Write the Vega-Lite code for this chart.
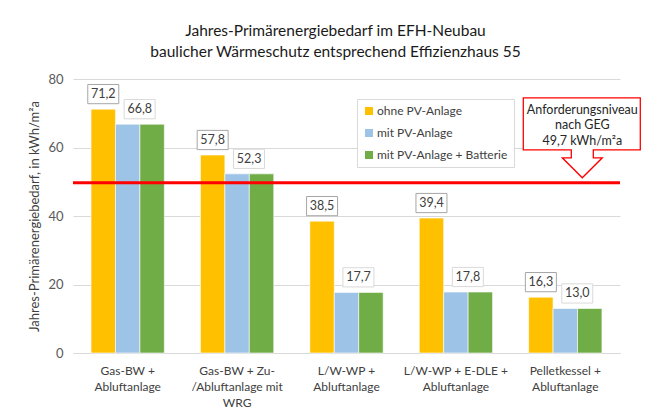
{
  "$schema": "https://vega.github.io/schema/vega-lite/v6.json",
  "width": 547,
  "height": 274,
  "autosize": {"type": "none"},
  "padding": {"left": 73, "top": 79, "right": 34, "bottom": 57},
  "background": "white",
  "title": {
    "text": ["Jahres-Primärenergiebedarf im EFH-Neubau", "baulicher Wärmeschutz entsprechend Effizienzhaus 55"],
    "font": "Lato",
    "fontSize": 15.5,
    "fontWeight": "normal",
    "color": "#1a1a1a",
    "lineHeight": 20.5,
    "offset": 13,
    "anchor": "middle",
    "dx": -11
  },
  "config": {
    "font": "Lato",
    "view": {"stroke": null}
  },
  "datasets": {
    "bars": [
      {"group": "Gas-BW +|Abluftanlage", "series": "ohne PV-Anlage", "value": 71.2, "label": "71,2"},
      {"group": "Gas-BW +|Abluftanlage", "series": "mit PV-Anlage", "value": 66.8, "label": "66,8"},
      {"group": "Gas-BW +|Abluftanlage", "series": "mit PV-Anlage + Batterie", "value": 66.8, "label": "66,8"},
      {"group": "Gas-BW + Zu-|/Abluftanlage mit|WRG", "series": "ohne PV-Anlage", "value": 57.8, "label": "57,8"},
      {"group": "Gas-BW + Zu-|/Abluftanlage mit|WRG", "series": "mit PV-Anlage", "value": 52.3, "label": "52,3"},
      {"group": "Gas-BW + Zu-|/Abluftanlage mit|WRG", "series": "mit PV-Anlage + Batterie", "value": 52.3, "label": "52,3"},
      {"group": "L/W-WP +|Abluftanlage", "series": "ohne PV-Anlage", "value": 38.5, "label": "38,5"},
      {"group": "L/W-WP +|Abluftanlage", "series": "mit PV-Anlage", "value": 17.7, "label": "17,7"},
      {"group": "L/W-WP +|Abluftanlage", "series": "mit PV-Anlage + Batterie", "value": 17.7, "label": "17,7"},
      {"group": "L/W-WP + E-DLE +|Abluftanlage", "series": "ohne PV-Anlage", "value": 39.4, "label": "39,4"},
      {"group": "L/W-WP + E-DLE +|Abluftanlage", "series": "mit PV-Anlage", "value": 17.8, "label": "17,8"},
      {"group": "L/W-WP + E-DLE +|Abluftanlage", "series": "mit PV-Anlage + Batterie", "value": 17.8, "label": "17,8"},
      {"group": "Pelletkessel +|Abluftanlage", "series": "ohne PV-Anlage", "value": 16.3, "label": "16,3"},
      {"group": "Pelletkessel +|Abluftanlage", "series": "mit PV-Anlage", "value": 13.0, "label": "13,0"},
      {"group": "Pelletkessel +|Abluftanlage", "series": "mit PV-Anlage + Batterie", "value": 13.0, "label": "13,0"}
    ],
    "limit": [
      {"group": "Pelletkessel +|Abluftanlage", "limit": 49.7}
    ]
  },
  "layer": [
    {
      "data": {"name": "bars"},
      "mark": {"type": "bar", "stroke": "white", "strokeWidth": 0.6},
      "encoding": {
        "x": {
          "field": "group", "type": "nominal",
          "scale": {
            "domain": ["Gas-BW +|Abluftanlage", "Gas-BW + Zu-|/Abluftanlage mit|WRG", "L/W-WP +|Abluftanlage", "L/W-WP + E-DLE +|Abluftanlage", "Pelletkessel +|Abluftanlage"],
            "paddingInner": 0.33, "paddingOuter": 0.165
          },
          "axis": {
            "title": null,
            "labelExpr": "split(datum.label, '|')",
            "labelAngle": 0,
            "labelFont": "Lato",
            "labelFontSize": 12,
            "labelLineHeight": 16,
            "labelColor": "#404040",
            "labelPadding": 12,
            "ticks": false,
            "domainColor": "#d9d9d9",
            "grid": false
          }
        },
        "xOffset": {
          "field": "series", "type": "nominal",
          "scale": {"domain": ["ohne PV-Anlage", "mit PV-Anlage", "mit PV-Anlage + Batterie"], "paddingInner": 0, "paddingOuter": 0}
        },
        "y": {
          "field": "value", "type": "quantitative",
          "stack": null,
          "scale": {"domain": [0, 80]},
          "axis": {
            "values": [0, 20, 40, 60, 80],
            "title": "Jahres-Primärenergiebedarf, in kWh/m²a",
            "titleFont": "Lato",
            "titleFontSize": 13,
            "titleFontWeight": "normal",
            "titleColor": "#404040",
            "titlePadding": 6,
            "labelFont": "Lato",
            "labelFontSize": 13,
            "labelColor": "#595959",
            "labelPadding": 10,
            "ticks": false,
            "domain": false,
            "gridColor": "#d9d9d9"
          }
        },
        "color": {
          "field": "series", "type": "nominal",
          "scale": {"domain": ["ohne PV-Anlage", "mit PV-Anlage", "mit PV-Anlage + Batterie"], "range": ["#FFC000", "#9DC3E6", "#70AD47"]},
          "legend": {
            "title": null,
            "orient": "none",
            "legendX": 284,
            "legendY": 20,
            "fillColor": "white",
            "strokeColor": "#d9d9d9",
            "padding": 6,
            "symbolType": "square",
            "symbolSize": 64,
            "symbolStrokeWidth": 0,
            "labelFont": "Lato",
            "labelFontSize": 12,
            "labelColor": "#404040",
            "rowPadding": 10,
            "labelOffset": 2
          }
        }
      }
    },
    {
      "data": {"name": "limit"},
      "mark": {"type": "rule", "color": "#FF0000", "strokeWidth": 3},
      "encoding": {"y": {"field": "limit", "type": "quantitative"}}
    },
    {
      "data": {"name": "bars"},
      "transform": [{"filter": "datum.series == 'ohne PV-Anlage'"}],
      "mark": {"type": "point", "shape": "M-1,-1.59H1V-0.35H-1Z", "size": 961, "filled": true, "fill": "white", "stroke": "#a6a6a6", "strokeWidth": 1, "opacity": 1},
      "encoding": {
        "x": {"field": "group", "type": "nominal"},
        "xOffset": {"field": "series", "type": "nominal"},
        "y": {"field": "value", "type": "quantitative", "stack": null}
      }
    },
    {
      "data": {"name": "bars"},
      "transform": [{"filter": "datum.series == 'ohne PV-Anlage'"}],
      "mark": {"type": "text", "font": "Lato", "fontSize": 12.5, "color": "#404040", "baseline": "middle", "align": "center", "dy": -15},
      "encoding": {
        "x": {"field": "group", "type": "nominal"},
        "xOffset": {"field": "series", "type": "nominal"},
        "y": {"field": "value", "type": "quantitative", "stack": null},
        "text": {"field": "label"}
      }
    },
    {
      "data": {"name": "bars"},
      "transform": [{"filter": "datum.series == 'mit PV-Anlage'"}],
      "mark": {"type": "point", "shape": "M-0.23,-1.59H1.77V-0.35H-0.23Z", "size": 961, "filled": true, "fill": "white", "stroke": "#d9d9d9", "strokeWidth": 1, "opacity": 1},
      "encoding": {
        "x": {"field": "group", "type": "nominal"},
        "xOffset": {"field": "series", "type": "nominal"},
        "y": {"field": "value", "type": "quantitative", "stack": null}
      }
    },
    {
      "data": {"name": "bars"},
      "transform": [{"filter": "datum.series == 'mit PV-Anlage'"}],
      "mark": {"type": "text", "font": "Lato", "fontSize": 12.5, "color": "#404040", "baseline": "middle", "align": "center", "dy": -15, "dx": 12},
      "encoding": {
        "x": {"field": "group", "type": "nominal"},
        "xOffset": {"field": "series", "type": "nominal"},
        "y": {"field": "value", "type": "quantitative", "stack": null},
        "text": {"field": "label"}
      }
    },
    {
      "data": {"name": "limit"},
      "mark": {"type": "point", "shape": "M-42,-85H75V-33H28V-25H37L17,-5L-3,-25H6V-33H-42Z", "size": 4, "filled": true, "fill": "white", "stroke": "#FF0000", "strokeWidth": 1.3, "opacity": 1},
      "encoding": {
        "x": {"field": "group", "type": "nominal"},
        "y": {"field": "limit", "type": "quantitative"}
      }
    },
    {
      "data": {"name": "limit"},
      "mark": {"type": "text", "text": ["Anforderungsniveau", "nach GEG", "49,7 kWh/m²a"], "font": "Lato", "fontSize": 12.5, "lineHeight": 15.5, "color": "#262626", "baseline": "middle", "align": "center", "dx": 17, "dy": -73},
      "encoding": {
        "x": {"field": "group", "type": "nominal"},
        "y": {"field": "limit", "type": "quantitative"}
      }
    }
  ]
}
